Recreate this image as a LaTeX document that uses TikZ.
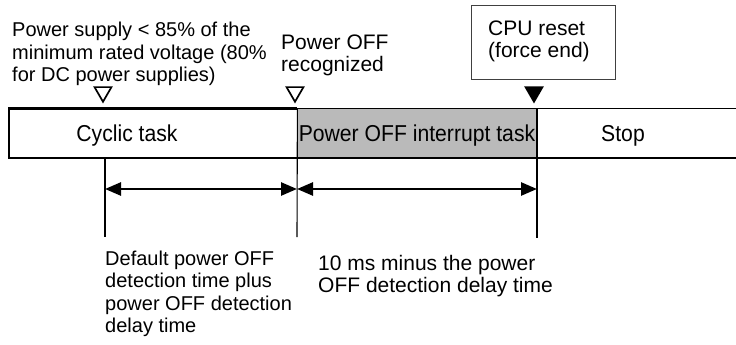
\documentclass[tikz,border=0pt]{standalone}
\usepackage{fontspec}
\setmainfont{Liberation Sans}
\newfontfamily\barfont[FakeStretch=0.92]{Liberation Sans}
\usetikzlibrary{arrows.meta,shapes.geometric}
\begin{document}
\begin{tikzpicture}[x=1pt,y=-1pt,
  lbl/.style={inner sep=0pt, align=left, anchor=north west, font=\fontsize{20}{22.5}\selectfont},
  lblb/.style={inner sep=0pt, align=left, anchor=north west, font=\fontsize{21}{22}\selectfont},
  bartxt/.style={inner sep=0pt, anchor=base, font=\barfont\fontsize{23}{25}\selectfont},
  seg/.style={inner sep=0pt, minimum height=49pt, anchor=north west},
  tri/.style={regular polygon, regular polygon sides=3, shape border rotate=180, minimum size=19.5pt, inner sep=0pt, draw, line width=1.7pt},
  thin/.style={line width=1.1pt},
  dim/.style={line width=2.6pt, {Triangle[length=16pt,width=13pt]}-{Triangle[length=16pt,width=13pt]}}
]
\useasboundingbox (0,0) rectangle (736,345);

% bar segments
\node[seg, minimum width=288pt] (cyc) at (9,108.5) {};
\node[seg, minimum width=240pt, fill=black!27] (poff) at (297,108.5) {};
\node[seg, minimum width=199pt] (stop) at (537,108.5) {};

\node[bartxt] (cyct) at (127,141) {Cyclic task};
\node[bartxt] (pofft) at (417,141) {Power OFF interrupt task};
\node[bartxt] (stopt) at (623,141) {Stop};

% outlines
\draw[line width=2.6pt] (cyc.north east) -- (cyc.north west) -- (cyc.south west) -- (cyc.south east);
\draw[line width=1pt] (poff.north west) -- (poff.north east);
\draw[line width=2.2pt] (poff.south west) -- (poff.south east);
\draw[line width=1pt] (stop.north west) -- (stop.north east);
\draw[line width=1.6pt] (stop.south west) -- (stop.south east);

% vertical lines
\coordinate (v1a) at (105,158);
\coordinate (v1b) at (105,237);
\coordinate (v2b) at (297,237);
\coordinate (v3b) at (537,238);
\draw[thin] (v1a) -- (v1b);
\draw[thin] (cyc.north east) -- (v2b);
\draw[thin] (stop.north west) -- (v3b);

% dimension arrows
\coordinate (d1) at (105,189);
\coordinate (d2) at (297,189);
\coordinate (d3) at (537,189);
\draw[dim] (d1) -- (d2);
\draw[dim] (d2) -- (d3);

% markers
\node[tri] (m1) at (103,92) {};
\node[tri] (m2) at (295,92) {};
\node[tri, fill=black] (m3) at (534,92) {};

% labels
\node[lbl] (l1) at (12,22) {Power supply < 85\% of the\\minimum rated voltage (80\%\\for DC power supplies)};
\node[lblb] (l2) at (281,35) {Power OFF\\recognized};
\node[draw, line width=1pt, draw=black!75, minimum width=144pt, minimum height=74pt, anchor=north west, inner sep=0pt] (cpu) at (471,5) {};
\node[lblb] (cput) at (488,21) {CPU reset\\(force end)};
\node[lbl] (l3) at (105,250.5) {Default power OFF\\detection time plus\\power OFF detection\\delay time};
\node[lblb] (l4) at (318,255) {10 ms minus the power\\OFF detection delay time};
\end{tikzpicture}
\end{document}
